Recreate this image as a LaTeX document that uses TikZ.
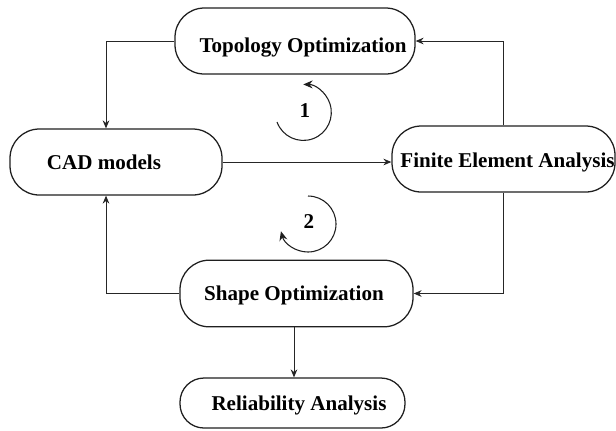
\documentclass[tikz,border=0pt]{standalone}
\usepackage{fontspec}
\setmainfont{Liberation Serif}
\usetikzlibrary{arrows.meta}
\newcommand{\lowertext}[2]{\raisebox{-#1}[0pt][0pt]{#2}}
\tikzset{
 box/.style={draw=black!88,line width=0.95pt,rounded corners=22pt,inner sep=0pt,font=\bfseries\fontsize{15.8}{18}\selectfont},
 conn/.style={draw=black!85,line width=0.75pt,-{Stealth[length=6pt,width=5pt]}},
 loopa/.style={draw=black!88,line width=0.8pt,-{Stealth[length=7pt,width=6pt]}},
 num/.style={font=\bfseries\fontsize{15.8}{18}\selectfont,inner sep=0pt}
}
\begin{document}
\begin{tikzpicture}[x=0.75pt,y=-0.75pt]
\useasboundingbox (0,0) rectangle (616,430);
\node[box,minimum width=180pt,minimum height=49.5pt] (topo) at (295,41) {\hspace*{12pt}\lowertext{8.25pt}{Topology Optimization}};
\node[box,minimum width=159pt,minimum height=49.5pt] (cad) at (116,162) {\lowertext{5.25pt}{CAD models}\hspace*{18pt}};
\node[box,minimum width=167.25pt,minimum height=49.5pt] (fea) at (503.5,159) {\hspace*{6pt}\lowertext{6pt}{Finite Element Analysis}};
\node[box,minimum width=174.75pt,minimum height=50pt] (shape) at (296.5,293.5) {\lowertext{4.875pt}{Shape Optimization}\hspace*{3.75pt}};
\node[box,rounded corners=18pt,minimum width=168.75pt,minimum height=37.5pt] (rel) at (292.5,403) {\hspace*{9.75pt}\lowertext{5.25pt}{Reliability Analysis}};
\node[num] (n1) at (305,111) {1};
\node[num] (n2) at (309,222) {2};
\coordinate (lx) at (106,162);
\coordinate (dx) at (294,350);
\draw[conn] (topo.west) -- (topo.west -| lx) -- (lx |- cad.north);
\draw[conn] (shape.west) -- (shape.west -| lx) -- (lx |- cad.south);
\draw[conn] (cad.east) -- (cad.east -| fea.west);
\draw[conn] (fea.north) |- (topo.east);
\draw[conn] (fea.south) |- (shape.east);
\draw[conn] (dx |- shape.south) -- (dx |- rel.north);
\draw[loopa] (277,122) arc[start angle=200,end angle=450,radius=21pt];
\draw[loopa] (308,196) arc[start angle=90,end angle=-165,radius=21pt];
\end{tikzpicture}
\end{document}
